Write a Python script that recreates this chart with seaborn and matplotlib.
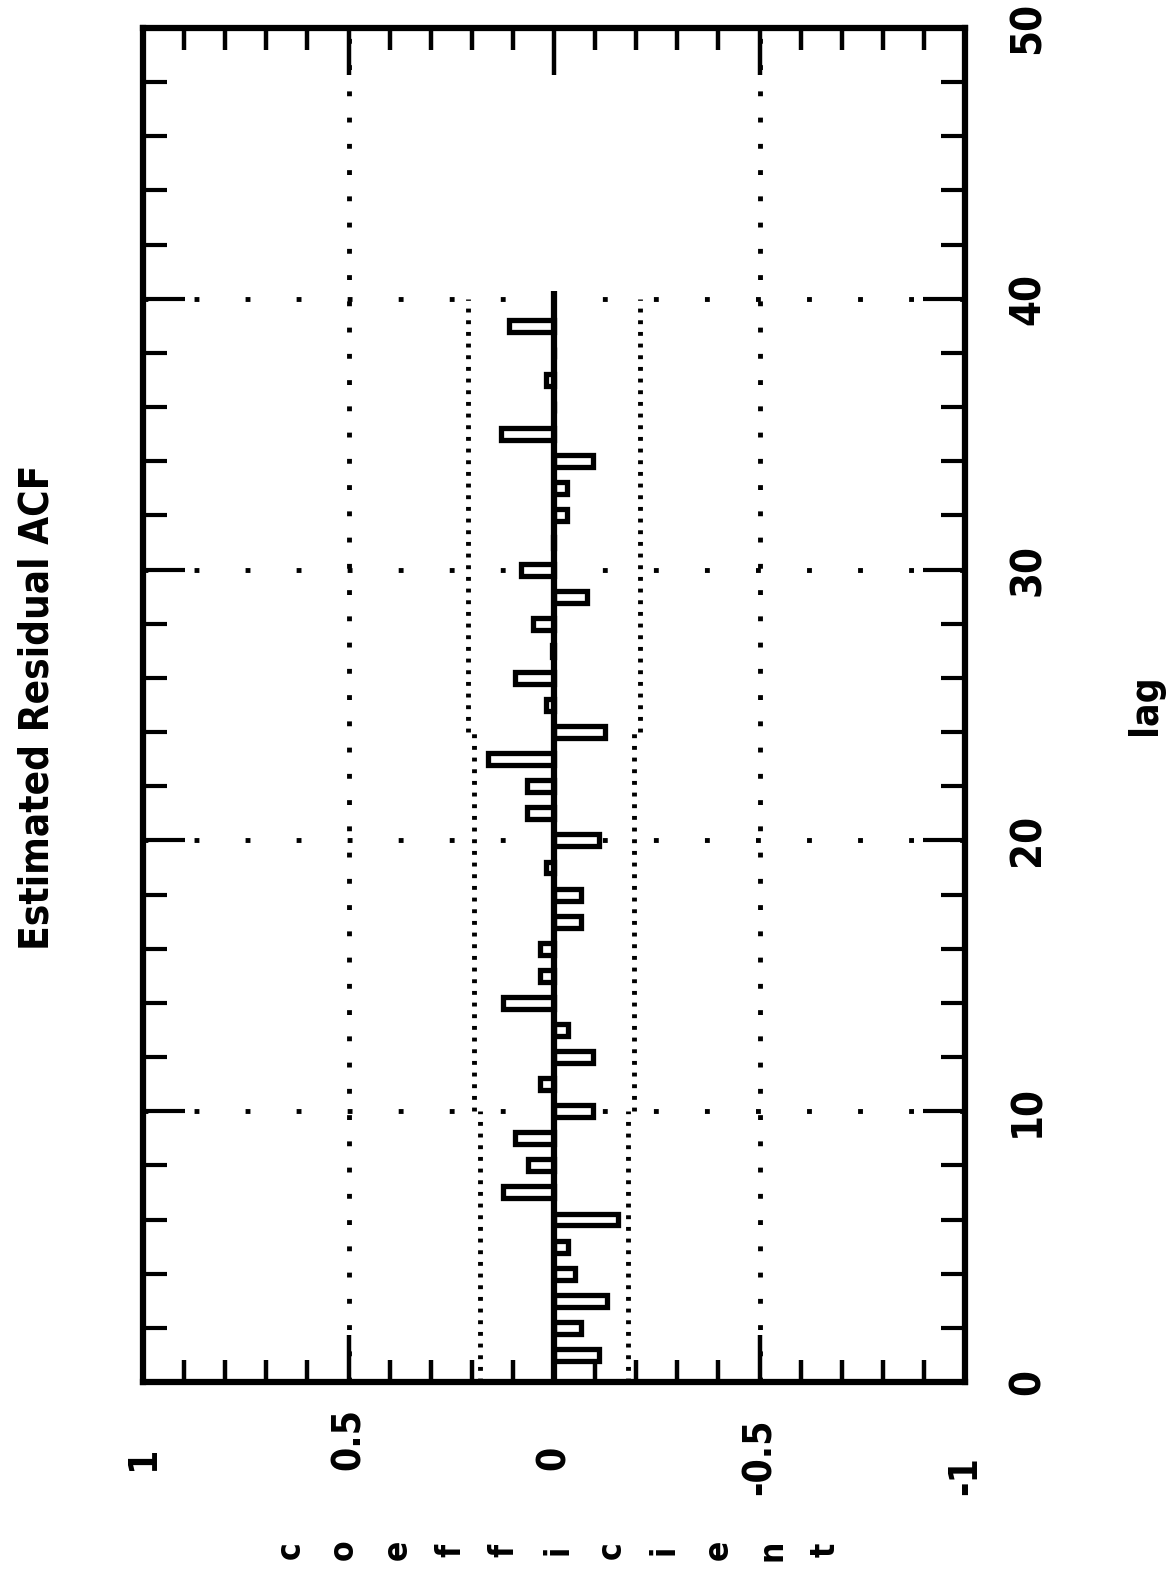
import numpy as np
import pandas as pd
import matplotlib
matplotlib.use("Agg")
import matplotlib.pyplot as plt
import seaborn as sns
from matplotlib import font_manager as fm

# ---------------- data ----------------
lags = list(range(1, 40))
acf_values = [-0.11, -0.065, -0.13, -0.05, -0.035, -0.155, 0.125, 0.063, 0.095, -0.095,
              0.035, -0.095, -0.035, 0.125, 0.035, 0.035, -0.065, -0.065, 0.02, -0.11,
              0.065, 0.065, 0.16, -0.125, 0.02, 0.095, 0.004, 0.05, -0.08, 0.08,
              0.003, -0.032, -0.032, -0.095, 0.13, 0.0, 0.02, 0.0, 0.11]
band_edges = [0, 10, 24, 40]
band_limits = [0.18, 0.195, 0.21]
lag_grid = [10, 20, 30, 40]
coef_grid = [0.5, -0.5]
coef_ticks = [1, 0.5, 0, -0.5, -1]
coef_ticklabels = ["1", "0.5", "0", "-0.5", "-1"]
lag_ticks = [0, 10, 20, 30, 40, 50]
lag_ticklabels = ["0", "10", "20", "30", "40", "50"]
title = "Estimated Residual ACF"
lag_label = "lag"
coef_label = "coefficient"

# ---------------- style ----------------
sns.set_style("white")
fonts = fm.fontManager.ttflist
names = {f.name for f in fonts}
has_cond = any(f.name == "DejaVu Sans" and f.stretch == "condensed" for f in fonts)
if "Liberation Sans Narrow" in names:
    fam = ["Liberation Sans Narrow", "DejaVu Sans"]
    stretch = "normal"
    weight = "bold"
else:
    fam = ["DejaVu Sans"]
    stretch = "condensed" if has_cond else "normal"
    weight = "bold" if has_cond else "normal"
plt.rcParams["font.family"] = fam
txt = dict(fontstretch=stretch, fontweight=weight, color="black")

W, H = 1166, 1569
fig = plt.figure(figsize=(W / 100, H / 100), dpi=100)
fig.patch.set_facecolor("white")
L, R, T, B = 143, 965, 28, 1382
ax = fig.add_axes([L / W, 1 - B / H, (R - L) / W, (B - T) / H])
ax.set_facecolor("white")

df = pd.DataFrame({"lag": lags, "acf": acf_values})
sns.barplot(data=df, x="acf", y="lag", orient="y", native_scale=True, width=0.44,
            color="white", edgecolor="black", linewidth=3.8, saturation=1,
            errorbar=None, ax=ax, zorder=2)

ax.set_xlim(1, -1)
ax.set_ylim(0, 50)

# zero line
ax.vlines(0, 0, band_edges[-1] + 0.3, color="black", lw=4.5, zorder=4)

# confidence bands
for i, lim in enumerate(band_limits):
    ax.vlines([lim, -lim], band_edges[i], band_edges[i + 1], colors="black",
              linestyles=[(0, (0.8, 1.6))], lw=3.5, zorder=1)

# dotted grid
for g in lag_grid:
    ax.axhline(g, color="black", lw=3.5, ls=(0, (1, 9.5)), zorder=1)
for g in coef_grid:
    ax.axvline(g, color="black", lw=3.5, ls=(0, (1, 4.4)), zorder=1)

# ticks
ax.set_xticks(coef_ticks)
ax.set_xticks(np.round(np.arange(-1, 1.001, 0.1), 2), minor=True)
ax.tick_params(axis="x", which="major", direction="in", length=34, width=3.2, color="black",
               top=True, bottom=True, labelbottom=False, labeltop=False)
ax.tick_params(axis="x", which="minor", direction="in", length=16, width=3.2, color="black",
               top=True, bottom=True)
ax.set_yticks(lag_ticks)
ax.set_yticks(list(range(0, 51, 2)), minor=True)
ax.set_yticklabels(lag_ticklabels)
ax.tick_params(axis="y", which="major", direction="in", length=30, width=3, color="black",
               left=True, right=True, labelleft=False, labelright=True,
               labelrotation=90, pad=30, labelsize=30, labelcolor="black")
ax.tick_params(axis="y", which="minor", direction="in", length=17, width=3, color="black",
               left=True, right=True)
for lbl in ax.get_yticklabels():
    lbl.set_va("center")
    lbl.set_ha("left")
    lbl.set_fontstretch(stretch)
    lbl.set_fontweight(weight)

ax.set_xlabel("")
ax.set_ylabel("")
for s in ax.spines.values():
    s.set_linewidth(4.5)
    s.set_color("black")
    s.set_zorder(5)

# value tick labels (rotated, start-aligned)
for v, lab in zip(coef_ticks, coef_ticklabels):
    y_px = 1495 if lab.startswith("-") else 1470
    y_ax = (B - y_px) / (B - T)
    ax.text(v, y_ax, lab, transform=ax.get_xaxis_transform(), rotation=90,
            ha="center", va="bottom", fontsize=28, clip_on=False, **txt)

# titles / labels
fig.text(38 / W, 1 - 707 / H, title, rotation=90, ha="center", va="center",
         fontsize=29, **txt)
fig.text(1145 / W, 1 - 705 / H, lag_label, rotation=90, ha="center", va="center",
         fontsize=28, **txt)
n = len(coef_label)
for i, ch in enumerate(coef_label):
    x = 290 + i * (825 - 290) / (n - 1)
    fig.text(x / W, 1 - 1550 / H, ch, rotation=90, ha="center", va="center",
             fontsize=24, **txt)

fig.savefig("out.png", dpi=100, facecolor="white")
